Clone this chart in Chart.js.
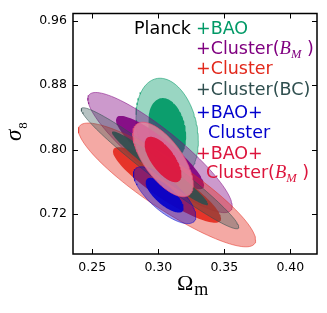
<!DOCTYPE html>
<html>
<head>
<meta charset="utf-8">
<script src="https://cdn.jsdelivr.net/npm/chart.js@4/dist/chart.umd.min.js"></script>
<style>
body{margin:0;background:#fff}
#grafico{display:block}
</style>
</head>
<body>
<canvas id="grafico" width="327" height="313"></canvas>
<script>

// probes, in the order they are stacked (last on top)
let probes=['+BAO','+Cluster(B_M)','+Cluster','+Cluster(BC)','+BAO+Cluster','+BAO+Cluster(B_M)']

// mean, 1-sigma errors and correlation of (Omega_m, sigma_8)
let mediaOm=[0.3067,0.3013,0.3066,0.3013,0.3048,0.3036]
let mediaS8=[0.8255,0.7964,0.7562,0.7769,0.7435,0.7878]
let sigmaOm=[0.0095,0.0220,0.0270,0.0240,0.0095,0.0092]
let sigmaS8=[0.0254,0.0300,0.0309,0.0302,0.0142,0.0186]
let correl=[-0.23,-0.89,-0.89,-0.972,-0.74,-0.67]

// 2 sigma and 1 sigma levels for two parameters (delta chi2 = 6.18, 2.30)
let niveis=[Math.sqrt(6.18),Math.sqrt(2.30)]

let ticksOm=[0.25,0.30,0.35,0.40]
let ticksS8=[0.72,0.80,0.88,0.96]
let rotulosOm=['0.25','0.30','0.35','0.40']
let rotulosS8=['0.72','0.80','0.88','0.96']

// styles
let corDentro=['rgba(0,153,102,0.92)','rgba(128,0,128,0.9)','rgba(228,40,28,0.9)','rgba(47,79,79,0.9)','rgba(0,0,205,0.9)','rgba(220,20,60,0.92)']
let corFora=['rgba(0,153,102,0.4)','rgba(128,0,128,0.4)','rgba(228,40,28,0.4)','rgba(47,79,79,0.35)','rgba(0,0,205,0.4)','rgba(235,135,160,0.8)']
let corBorda=['rgba(0,153,102,0.55)','rgba(128,0,128,0.5)','rgba(228,40,28,0.5)','rgba(47,79,79,0.55)','rgba(0,0,205,0.5)','rgba(235,80,120,0.7)']

function elipse(mx,my,sx,sy,r,k){
let pts=[]
let q=Math.sqrt(1-r*r)
for(let j=0;j<=120;j++){
let t=j/120*2*Math.PI
let c=Math.cos(t)
let s=Math.sin(t)
pts.push({x:mx+k*sx*c,y:my+k*sy*(r*c+q*s)})
}
return pts
}

let datasets=[]
let seq=0

probes.forEach((p,i)=>{
niveis.forEach((k,n)=>{
let externo=n===0
datasets.push({
label:p+(externo?' 2s':' 1s'),
data:elipse(mediaOm[i],mediaS8[i],sigmaOm[i],sigmaS8[i],correl[i],k),
showLine:true,
fill:'shape',
tension:0,
pointRadius:0,
backgroundColor:externo?corFora[i]:corDentro[i],
borderColor:externo?corBorda[i]:'rgba(0,0,0,0)',
borderWidth:externo?1:0,
order:100-seq
})
seq++
})
})

// legend lines inside the plot: text parts, x, baseline
let legenda=[
{partes:[['Planck','#000']],x:134,y:33.5},
{partes:[['+BAO','#009966']],x:196,y:33.5},
{partes:[['+Cluster(','#800080'],['B','#800080','i'],['M','#800080','s'],[' )','#800080']],x:196,y:53.5},
{partes:[['+Cluster','#e2281c']],x:196,y:74},
{partes:[['+Cluster(BC)','#2f4f4f']],x:196,y:94.5},
{partes:[['+BAO+','#0000cd']],x:196,y:118},
{partes:[['Cluster','#0000cd']],x:208,y:137.5},
{partes:[['+BAO+','#dc143c']],x:196,y:159},
{partes:[['Cluster(','#dc143c'],['B','#dc143c','i'],['M','#dc143c','s'],[' )','#dc143c']],x:206,y:177.5}
]

function escreve(ctx,x,y,partes){
partes.forEach(pt=>{
let dy=0
if(pt[2]==='i'){
ctx.font='italic 18.5px "Liberation Serif"'
}else if(pt[2]==='s'){
ctx.font='italic 12.5px "Liberation Serif"'
dy=4
}else{
ctx.font='17.5px "DejaVu Sans"'
}
ctx.fillStyle=pt[1]
ctx.fillText(pt[0],x,y+dy)
x+=ctx.measureText(pt[0]).width
})
}

let moldura={
id:'moldura',
afterDraw(chart){
let ctx=chart.ctx
let a=chart.chartArea
let sx=chart.scales.x
let sy=chart.scales.y
ctx.save()
ctx.strokeStyle='#000'
ctx.lineWidth=1
ticksOm.forEach(v=>{
let px=Math.round(sx.getPixelForValue(v))+0.5
ctx.beginPath()
ctx.moveTo(px,a.bottom);ctx.lineTo(px,a.bottom-5)
ctx.moveTo(px,a.top);ctx.lineTo(px,a.top+5)
ctx.stroke()
})
ticksS8.forEach(v=>{
let py=Math.round(sy.getPixelForValue(v))+0.5
ctx.beginPath()
ctx.moveTo(a.left,py);ctx.lineTo(a.left+5,py)
ctx.moveTo(a.right,py);ctx.lineTo(a.right-5,py)
ctx.stroke()
})
ctx.lineWidth=1.5
ctx.strokeRect(a.left,a.top,a.right-a.left,a.bottom-a.top)

ctx.textBaseline='alphabetic'
ctx.textAlign='left'
legenda.forEach(l=>escreve(ctx,l.x,l.y,l.partes))

// axis titles
ctx.fillStyle='#000'
ctx.font='22px "Liberation Serif"'
ctx.fillText('Ω',177,290)
let w=ctx.measureText('Ω').width
ctx.font='18px "Liberation Serif"'
ctx.fillText('m',177+w+1,295)

ctx.translate(21,141)
ctx.rotate(-Math.PI/2)
ctx.font='italic 23px "Liberation Serif"'
ctx.fillText('σ',0,0)
let ws=ctx.measureText('σ').width
ctx.font='13px "Liberation Serif"'
ctx.fillText('8',ws+1,6)
ctx.restore()
}
}

new Chart(document.getElementById('grafico'),{
type:'scatter',
data:{datasets:datasets},
options:{
responsive:false,
animation:false,
events:[],
layout:{padding:{top:9,right:10,left:0,bottom:0}},
plugins:{
legend:{display:false},
tooltip:{enabled:false}
},
scales:{
x:{
type:'linear',
min:0.2354,
max:0.4202,
grid:{display:false,drawTicks:false},
border:{display:false},
afterBuildTicks:s=>{s.ticks=ticksOm.map(v=>({value:v}))},
afterFit:s=>{s.height=59},
ticks:{
color:'#000',
padding:6,
maxRotation:0,
font:{family:'DejaVu Sans',size:12.5},
callback:(v)=>rotulosOm[ticksOm.indexOf(v)]
}
},
y:{
type:'linear',
min:0.6705,
max:0.9690,
grid:{display:false,drawTicks:false},
border:{display:false},
afterBuildTicks:s=>{s.ticks=ticksS8.map(v=>({value:v}))},
afterFit:s=>{s.width=73},
ticks:{
color:'#000',
padding:6,
font:{family:'DejaVu Sans',size:12.5},
callback:(v)=>rotulosS8[ticksS8.indexOf(v)]
}
}
}
},
plugins:[moldura]
})

</script>
</body>
</html>
